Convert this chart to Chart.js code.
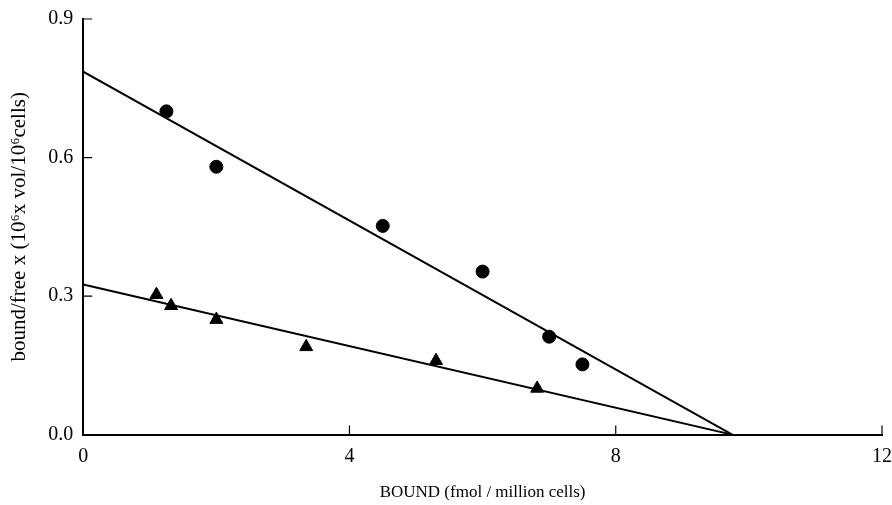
<!DOCTYPE html>
<html>
<head>
<meta charset="utf-8">
<script src="https://cdn.jsdelivr.net/npm/chart.js@4"></script>
<style>
  html, body { margin: 0; padding: 0; background: #fff; }
  #wrap { width: 892px; height: 505px; }
</style>
</head>
<body>
<div id="wrap"><canvas id="chart" width="892" height="505"></canvas></div>
<script>
// circles (upper series)
const circleX = [1.25, 2.0, 4.5, 6.0, 7.0, 7.5];
const circleY = [0.70, 0.58, 0.452, 0.353, 0.212, 0.152];
// triangles (lower series)
const triX = [1.1, 1.32, 2.0, 3.35, 5.3, 6.82];
const triY = [0.303, 0.279, 0.249, 0.19, 0.16, 0.10];
// fitted lines: [x, y] end points
const fitCircle = [[0, 0.786], [9.75, 0]];
const fitTri = [[0, 0.325], [9.75, 0]];
const xTicks = [0, 4, 8, 12];
const yTicks = [0.0, 0.3, 0.6, 0.9];

const toPts = (xs, ys) => xs.map((x, i) => ({ x: x, y: ys[i] }));
const linePts = (pairs) => pairs.map(([x, y]) => ({ x, y }));

// inward tick marks, like the original figure
const innerTicks = {
    id: "innerTicks",
    afterDatasetsDraw(chart) {
        const { ctx, scales: { x, y } } = chart;
        ctx.save();
        ctx.strokeStyle = "#000";
        ctx.lineWidth = 1.2;
        ctx.beginPath();
        for (const v of xTicks) {
            const px = x.getPixelForValue(v);
            ctx.moveTo(px, y.bottom);
            ctx.lineTo(px, y.bottom - 9);
        }
        for (const v of yTicks) {
            const py = y.getPixelForValue(v);
            ctx.moveTo(x.left, py);
            ctx.lineTo(x.left + 9, py);
        }
        ctx.stroke();
        ctx.restore();
    }
};

Chart.defaults.font.family = "'Liberation Serif', 'Times New Roman', serif";
Chart.defaults.color = "#000";

new Chart(document.getElementById("chart"), {
    type: "scatter",
    data: {
        datasets: [
            {
                data: toPts(circleX, circleY),
                pointStyle: "circle",
                pointRadius: 6.5,
                backgroundColor: "#000",
                borderColor: "#000"
            },
            {
                data: toPts(triX, triY),
                pointStyle: "triangle",
                pointRadius: 7.5,
                backgroundColor: "#000",
                borderColor: "#000"
            },
            {
                type: "line",
                data: linePts(fitCircle),
                borderColor: "#000",
                borderWidth: 2,
                pointRadius: 0,
                fill: false
            },
            {
                type: "line",
                data: linePts(fitTri),
                borderColor: "#000",
                borderWidth: 2,
                pointRadius: 0,
                fill: false
            }
        ]
    },
    options: {
        responsive: false,
        animation: false,
        layout: { padding: { left: 7, right: 10, top: 19, bottom: 2 } },
        plugins: {
            legend: { display: false },
            tooltip: { enabled: false }
        },
        scales: {
            x: {
                type: "linear",
                min: 0,
                max: 12,
                afterBuildTicks: (s) => { s.ticks = xTicks.map(v => ({ value: v })); },
                afterFit: (s) => { s.paddingLeft = 0; s.paddingRight = 0; },
                ticks: { font: { size: 20 }, padding: 10, maxRotation: 0, callback: (v) => String(v) },
                grid: { display: true, drawOnChartArea: false, drawTicks: false },
                border: { color: "#000", width: 2 },
                title: {
                    display: true,
                    text: "BOUND (fmol / million cells)",
                    font: { size: 17 },
                    padding: { top: 4, bottom: 0 }
                }
            },
            y: {
                type: "linear",
                min: 0,
                max: 0.9,
                afterBuildTicks: (s) => { s.ticks = yTicks.map(v => ({ value: v })); },
                afterFit: (s) => { s.paddingTop = 0; s.paddingBottom = 0; },
                ticks: { font: { size: 20 }, padding: 10, callback: (v) => v.toFixed(1) },
                grid: { display: true, drawOnChartArea: false, drawTicks: false },
                border: { color: "#000", width: 2 },
                title: {
                    display: true,
                    text: "bound/free x (10⁶x vol/10⁶cells)",
                    font: { size: 21 },
                    padding: { top: 0, bottom: 6 }
                }
            }
        }
    },
    plugins: [innerTicks]
});
</script>
</body>
</html>
